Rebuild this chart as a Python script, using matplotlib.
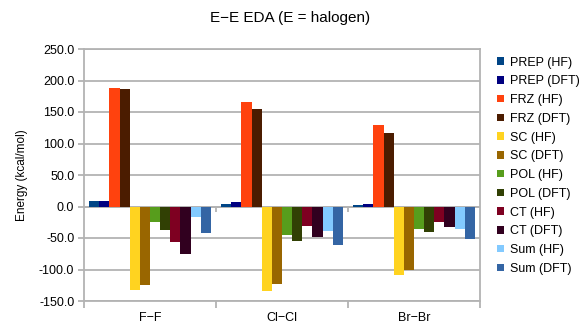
import matplotlib.pyplot as plt
import numpy as np

plt.rcParams['font.family'] = ['Liberation Sans', 'DejaVu Sans']

# E–E energy decomposition terms, kcal/mol
pairs = ['F\u2212F', 'Cl\u2212Cl', 'Br\u2212Br']
series = ['PREP (HF)', 'PREP (DFT)', 'FRZ (HF)', 'FRZ (DFT)', 'SC (HF)', 'SC (DFT)',
          'POL (HF)', 'POL (DFT)', 'CT (HF)', 'CT (DFT)', 'Sum (HF)', 'Sum (DFT)']
prep_hf = [9.5, 4.0, 3.0]
prep_dft = [9.5, 7.5, 4.0]
frz_hf = [188.0, 166.0, 129.0]
frz_dft = [186.5, 155.0, 117.0]
sc_hf = [-132.0, -133.5, -108.0]
sc_dft = [-124.0, -122.5, -100.0]
pol_hf = [-24.0, -46.0, -35.0]
pol_dft = [-38.0, -54.0, -41.0]
ct_hf = [-57.0, -30.5, -24.0]
ct_dft = [-75.0, -48.0, -32.0]
sum_hf = [-16.0, -38.5, -35.0]
sum_dft = [-41.5, -60.5, -51.0]
values = [prep_hf, prep_dft, frz_hf, frz_dft, sc_hf, sc_dft,
          pol_hf, pol_dft, ct_hf, ct_dft, sum_hf, sum_dft]
colors = ['#004586', '#000080', '#ff420e', '#4b1c00', '#ffd320', '#996600',
          '#579d1c', '#314004', '#7e0021', '#31001f', '#83caff', '#3465a4']

grid_c = '#b3b3b3'

fig = plt.figure(figsize=(5.81, 3.24), dpi=100)
ax = fig.add_axes([84 / 581, 1 - 301 / 324, 396 / 581, 252 / 324])

x = np.arange(len(pairs))
group = 0.924
w = group / len(series)
for i, (name, vals, c) in enumerate(zip(series, values, colors)):
    ax.bar(x - group / 2 + (i + 0.5) * w, vals, width=w, color=c, label=name,
           linewidth=0, zorder=3)

ax.set_xlim(-0.5, len(pairs) - 0.5)
ax.set_ylim(-150, 250)
ax.set_yticks(np.arange(-150, 251, 50))
ax.set_yticklabels(['%.1f' % v for v in np.arange(-150, 251, 50)], fontsize=9)
ax.yaxis.grid(True, color=grid_c, linewidth=1.3, zorder=0)

# category labels between boundary ticks
bounds = np.arange(-0.5, len(pairs), 1.0)
ax.set_xticks(bounds)
ax.set_xticklabels([])
ax.set_xticks(x, minor=True)
ax.set_xticklabels(pairs, minor=True, fontsize=9)
ax.tick_params(axis='x', which='minor', length=0, pad=8)
ax.tick_params(axis='x', which='major', length=5, width=1.3, color=grid_c)
ax.tick_params(axis='y', length=4, width=1.3, color=grid_c, pad=3)

# x axis line at zero with its own ticks
ax.axhline(0, color=grid_c, linewidth=1.3, zorder=2)
ax.vlines(bounds[1:-1], -9, 0, color=grid_c, linewidth=1.3, zorder=2)

for s in ax.spines.values():
    s.set_color(grid_c)
    s.set_linewidth(1.3)

ax.set_ylabel('Energy (kcal/mol)', fontsize=8.5, labelpad=8)
fig.suptitle('E\u2212E EDA (E = halogen)', fontsize=11, x=0.5, y=0.965)

ax.legend(loc='upper left', bbox_to_anchor=(1.043, 0.97), frameon=False, fontsize=9,
          handlelength=0.55, handleheight=0.55, handletextpad=0.5, labelspacing=0.54,
          borderaxespad=0, borderpad=0)

fig.savefig('out.png', dpi=100)
